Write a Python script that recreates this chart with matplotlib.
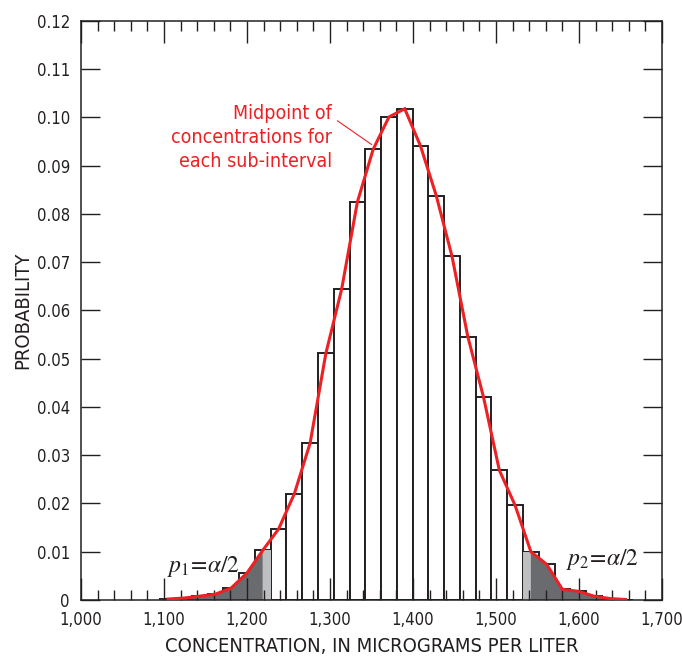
import matplotlib
matplotlib.use("Agg")
import matplotlib.pyplot as plt
from matplotlib.ticker import MultipleLocator, FuncFormatter
from matplotlib.patches import Rectangle

# Sub-interval layout (concentration, micrograms per liter)
BIN_START = 1095.5
BIN_WIDTH = 19.0

# Probability of each sub-interval (bar heights)
probability = [
    0.0002, 0.0004, 0.0008, 0.0012, 0.0025, 0.0056, 0.0103, 0.0147,
    0.0220, 0.0325, 0.0511, 0.0644, 0.0825, 0.0934, 0.1001, 0.1018,
    0.0941, 0.0838, 0.0712, 0.0546, 0.0420, 0.0269, 0.0196, 0.0100,
    0.0074, 0.0022, 0.0018, 0.0008, 0.0003, 0.0001,
]

# Index of the half-shaded bar on each side
LOW_TAIL_END = 6
HIGH_TAIL_START = 23

edges = [BIN_START + i * BIN_WIDTH for i in range(len(probability))]
mids = [e + BIN_WIDTH / 2 for e in edges]

FONT = ["DejaVu Sans"]
STRETCH = "condensed"
RED = "#ed2024"
DARK = "#6a6b6e"
LIGHT = "#bdbfc1"
INK = "#231f20"

plt.rcParams["mathtext.fontset"] = "stix"

fig = plt.figure(figsize=(6.82, 6.61), dpi=100)
ax = fig.add_axes([0.1188, 0.0923, 0.8519, 0.876])

# Bars
ax.bar(edges, probability, width=BIN_WIDTH, align="edge",
       facecolor="white", edgecolor=INK, linewidth=1.4, zorder=1)

# Light grey halves of the boundary bars
ax.add_patch(Rectangle((mids[LOW_TAIL_END], 0), BIN_WIDTH / 2,
                       probability[LOW_TAIL_END], facecolor=LIGHT,
                       edgecolor="none", zorder=1.4))
ax.add_patch(Rectangle((edges[HIGH_TAIL_START], 0), BIN_WIDTH / 2,
                       probability[HIGH_TAIL_START], facecolor=LIGHT,
                       edgecolor="none", zorder=1.4))

# Dark tails under the midpoint curve
lx = [edges[0]] + mids[:LOW_TAIL_END + 1]
ly = [probability[0]] + probability[:LOW_TAIL_END + 1]
ax.fill_between(lx, ly, 0, facecolor=DARK, edgecolor="none", zorder=1.5)
rx = mids[HIGH_TAIL_START:] + [edges[-1] + BIN_WIDTH]
ry = probability[HIGH_TAIL_START:] + [0]
ax.fill_between(rx, ry, 0, facecolor=DARK, edgecolor="none", zorder=1.5)

# Midpoint curve
ax.plot(mids, probability, color=RED, linewidth=2.2, zorder=3,
        solid_joinstyle="miter")

# Annotation
ax.text(1302, 0.0958, "Midpoint of\nconcentrations for\neach sub-interval",
        color=RED, ha="right", va="center", fontsize=14, family=FONT,
        stretch=STRETCH, linespacing=1.32)
ax.plot([1309, 1350], [0.0993, 0.0944], color=RED, linewidth=0.8, zorder=3)

ax.text(1103, 0.0058, r"$p_{\mathit{1}}\!=\!\alpha/2$", fontsize=17, color=INK)
ax.text(1584, 0.0073, r"$p_{\mathit{2}}\!=\!\alpha/2$", fontsize=17, color=INK)

# Axes
ax.set_xlim(1000, 1700)
ax.set_ylim(0, 0.12)
ax.xaxis.set_major_locator(MultipleLocator(100))
ax.xaxis.set_minor_locator(MultipleLocator(20))
ax.yaxis.set_major_locator(MultipleLocator(0.01))
ax.xaxis.set_major_formatter(FuncFormatter(lambda v, p: f"{int(round(v)):,}"))
ax.yaxis.set_major_formatter(
    FuncFormatter(lambda v, p: "0" if abs(v) < 1e-9 else f"{v:.2f}"))

ax.tick_params(which="both", direction="in", top=True, right=True,
               color=INK, width=1.0)
ax.tick_params(which="major", axis="x", length=16, pad=8)
ax.tick_params(which="minor", axis="x", length=7)
ax.tick_params(which="major", axis="y", length=14, pad=8)

for lab in ax.get_xticklabels() + ax.get_yticklabels():
    lab.set_family(FONT)
    lab.set_stretch(STRETCH)
    lab.set_fontsize(12)
    lab.set_color(INK)

for s in ax.spines.values():
    s.set_linewidth(1.1)
    s.set_color(INK)

ax.set_xlabel("CONCENTRATION, IN MICROGRAMS PER LITER", family=FONT,
              stretch=STRETCH, fontsize=14.5, color=INK, labelpad=6)
ax.set_ylabel("PROBABILITY", family=FONT, stretch=STRETCH, fontsize=14.5,
              color=INK, labelpad=3)

fig.savefig("out.png", dpi=100)
